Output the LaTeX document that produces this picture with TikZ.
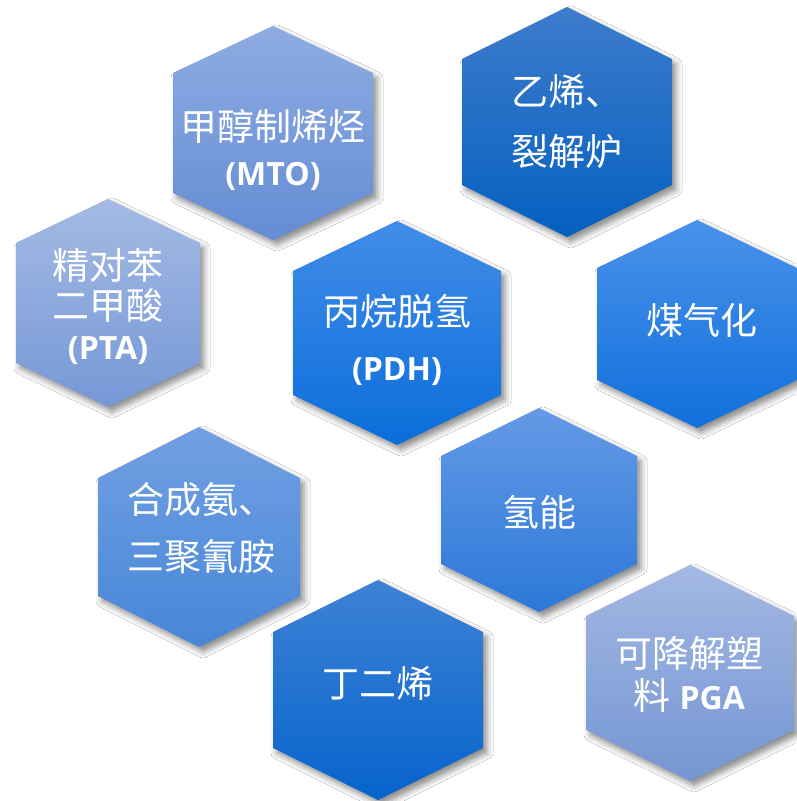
\documentclass[tikz,border=0pt]{standalone}
\usepackage{fontspec}
\setmainfont{Open Sans}
\newfontfamily\cjk{Noto Sans CJK SC}
\usetikzlibrary{shadows.blur}

\definecolor{mtoTop}{RGB}{142,172,226}
\definecolor{mtoBot}{RGB}{100,140,212}
\definecolor{ethTop}{RGB}{62,124,204}
\definecolor{ethBot}{RGB}{4,96,192}
\definecolor{ptaTop}{RGB}{164,186,228}
\definecolor{ptaBot}{RGB}{118,152,214}
\definecolor{pdhTop}{RGB}{66,140,232}
\definecolor{pdhBot}{RGB}{10,110,218}
\definecolor{coalTop}{RGB}{74,146,234}
\definecolor{coalBot}{RGB}{16,112,220}
\definecolor{nhTop}{RGB}{114,160,226}
\definecolor{nhBot}{RGB}{70,134,216}
\definecolor{hTop}{RGB}{100,154,230}
\definecolor{hBot}{RGB}{44,120,216}
\definecolor{budTop}{RGB}{62,130,214}
\definecolor{budBot}{RGB}{6,100,204}
\definecolor{pgaTop}{RGB}{164,184,228}
\definecolor{pgaBot}{RGB}{116,150,210}

% cx, cy, half width, half height, half side, top colour, bottom colour
\newcommand{\hexa}[7]{%
  \shade[top color=#6, bottom color=#7, blur shadow={shadow xshift=4pt, shadow yshift=-5pt, shadow blur radius=6pt, shadow opacity=45}]
    (#1,#2-#4) -- (#1+#3,#2-#5) -- (#1+#3,#2+#5) -- (#1,#2+#4) -- (#1-#3,#2+#5) -- (#1-#3,#2-#5) -- cycle;}

\begin{document}
\begin{tikzpicture}[x=1pt, y=-1pt,
    txt/.style={text=white, inner sep=0pt, font=\fontsize{37}{45}\selectfont}]
  \useasboundingbox (0,0) rectangle (796,801);
  \fill[white] (0,0) rectangle (796,801);

  \hexa{273}{133}{100}{107}{60}{mtoTop}{mtoBot}
  \hexa{567}{122}{105}{115}{63}{ethTop}{ethBot}
  \hexa{108}{303}{92}{104}{60}{ptaTop}{ptaBot}
  \hexa{397}{333}{104}{112}{62}{pdhTop}{pdhBot}
  \hexa{697}{324}{100}{104}{56}{coalTop}{coalBot}
  \hexa{199}{537}{101}{110}{59}{nhTop}{nhBot}
  \hexa{539}{510}{98}{102}{54}{hTop}{hBot}
  \hexa{378}{690}{105}{110}{58}{budTop}{budBot}
  \hexa{690}{673}{104}{108}{57}{pgaTop}{pgaBot}

  \node[txt, align=center] (mto) at (273,150) {\cjk 甲醇制烯烃\\{\fontsize{32}{45}\selectfont\bfseries (MTO)}};
  \node[txt, align=left, anchor=west, font=\fontsize{37}{60}\selectfont] (eth) at (511,122) {\cjk 乙烯、\\\cjk 裂解炉};
  \node[txt, align=center, font=\fontsize{37}{40}\selectfont] (pta) at (108,306) {\cjk 精对苯\\\cjk 二甲酸\\{\fontsize{32}{40}\selectfont\bfseries (PTA)}};
  \node[txt, align=center, font=\fontsize{37}{55}\selectfont] (pdh) at (397,340) {\cjk 丙烷脱氢\\{\fontsize{32}{55}\selectfont\bfseries (PDH)}};
  \node[txt] (coal) at (702,320) {\cjk 煤气化};
  \node[txt, align=left, anchor=west, font=\fontsize{37}{57}\selectfont] (nh) at (127,528) {\cjk 合成氨、\\\cjk 三聚氰胺};
  \node[txt] (h) at (539,512) {\cjk 氢能};
  \node[txt] (bud) at (378,683) {\cjk 丁二烯};
  \node[txt, align=center, font=\fontsize{37}{42}\selectfont] (pga) at (689,674) {\cjk 可降解塑\\{\cjk 料} {\fontsize{32}{42}\selectfont\bfseries PGA}};
\end{tikzpicture}
\end{document}
